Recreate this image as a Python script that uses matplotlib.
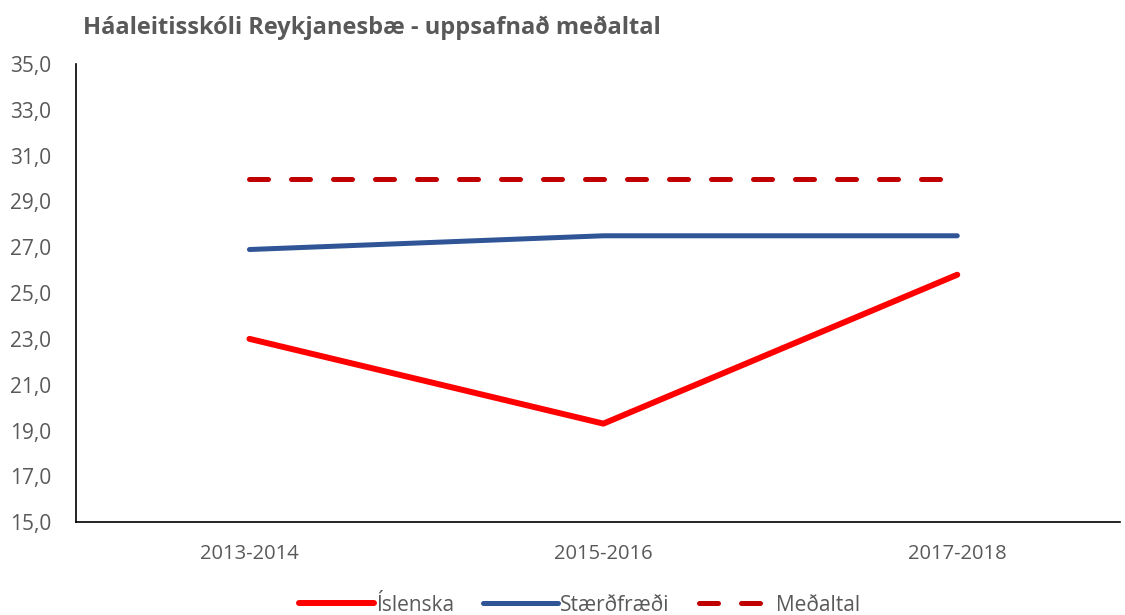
import matplotlib.pyplot as plt

plt.rcParams["font.family"] = ["Open Sans", "DejaVu Sans"]

years = ["2013-2014", "2015-2016", "2017-2018"]
islenska = [23.0, 19.3, 25.8]
staerdfraedi = [26.9, 27.5, 27.5]
medaltal = [30.0, 30.0, 30.0]
yticks = [15, 17, 19, 21, 23, 25, 27, 29, 31, 33, 35]

gray = "#595959"

fig = plt.figure(figsize=(11.25, 6.15), dpi=100)
ax = fig.add_axes([0.0676, 0.151, 0.928, 0.745])

x = range(len(years))
ax.plot(x, islenska, color="#FF0000", lw=4.3, solid_capstyle="round", label="Íslenska")
ax.plot(x, staerdfraedi, color="#2F5597", lw=3.6, solid_capstyle="round", label="Stærðfræði")
ax.plot(x, medaltal, color="#C00000", lw=3.6, dashes=(3.8, 4.6), dash_capstyle="round",
        label="Meðaltal")

ax.set_xlim(-0.49, 2.46)
ax.set_ylim(15, 35)
ax.set_yticks(yticks)
ax.set_yticklabels([f"{v:.1f}".replace(".", ",") for v in yticks])
ax.set_xticks(list(x))
ax.set_xticklabels(years)
ax.tick_params(axis="y", length=0, labelsize=15, colors=gray, pad=18)
ax.tick_params(axis="x", length=0, labelsize=14.5, colors=gray, pad=16)

for s in ["top", "right"]:
    ax.spines[s].set_visible(False)
for s in ["left", "bottom"]:
    ax.spines[s].set_color("black")
    ax.spines[s].set_linewidth(1.2)

fig.text(0.074, 0.955, "Háaleitisskóli Reykjanesbæ - uppsafnað meðaltal",
         fontsize=17, fontweight="bold", color=gray, va="center", ha="left")

leg = fig.legend(loc="center", bbox_to_anchor=(0.515, 0.016), ncol=3, frameon=False,
                 fontsize=15, handlelength=3.6, handletextpad=0.1, columnspacing=1.4,
                 labelcolor=gray)

fig.savefig("out.png", dpi=100)
